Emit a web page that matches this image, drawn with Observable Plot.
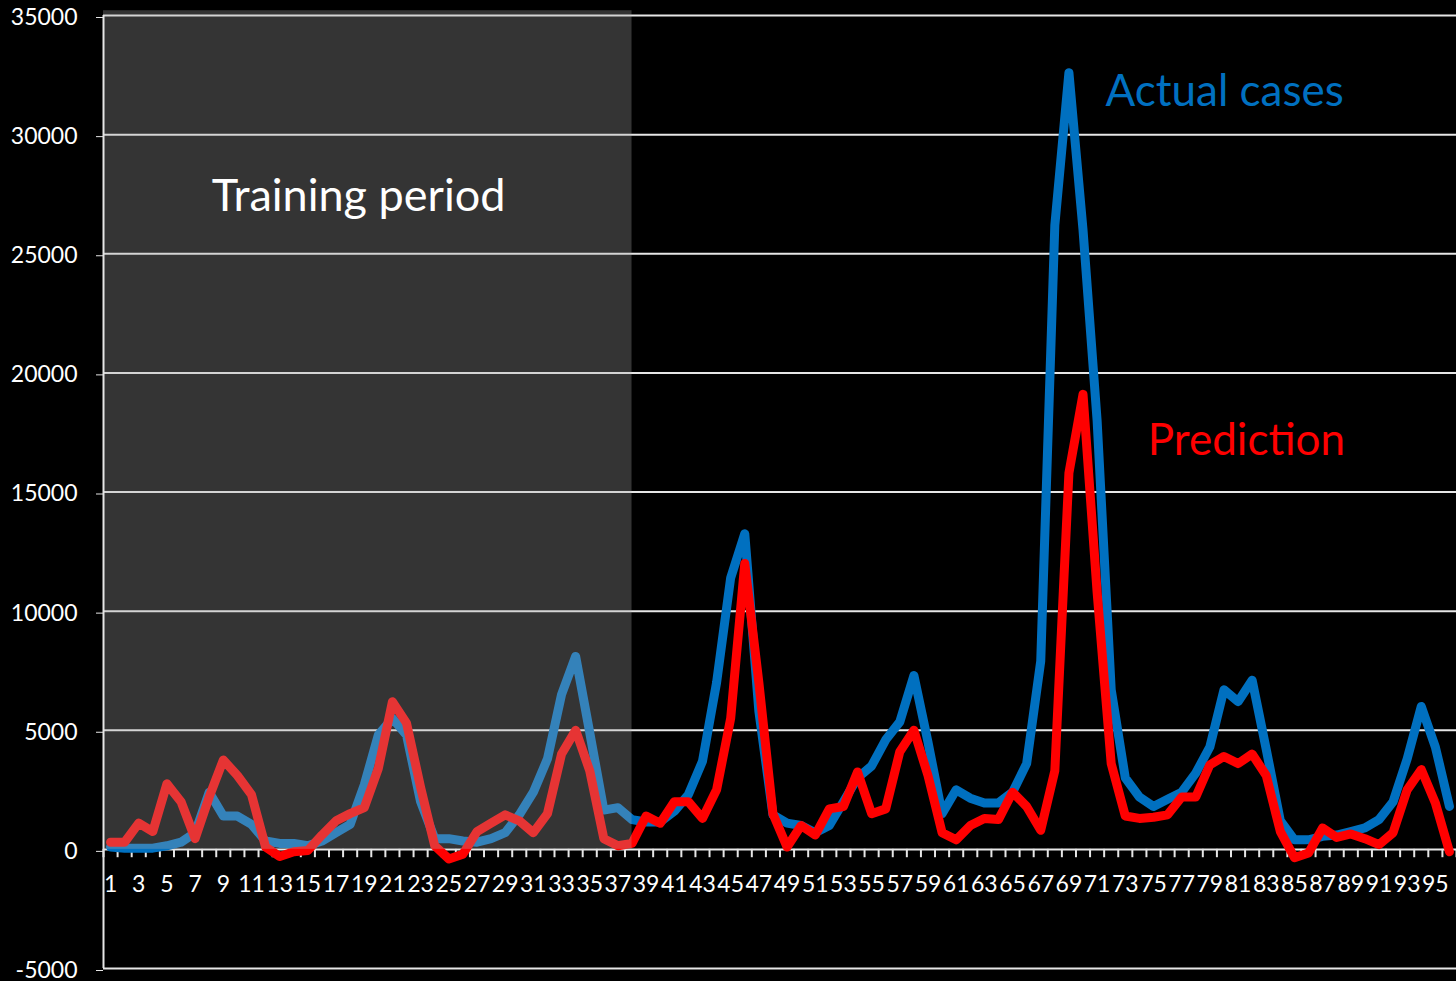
<!DOCTYPE html>
<html><head><meta charset="utf-8">
<script src="https://cdn.jsdelivr.net/npm/d3@7"></script>
<script src="https://cdn.jsdelivr.net/npm/@observablehq/plot@0.6"></script>
<style>
html,body{margin:0;padding:0;background:#000;}
#chart{width:1456px;height:981px;}
</style></head>
<body><div id="chart"></div>
<script>
const weeks = d3.range(1, 97);
const actualCases = [100,50,50,50,150,300,700,2400,1400,1400,1050,350,250,250,150,350,700,1050,2700,4800,
  5500,4800,2000,450,450,350,300,450,700,1450,2400,3800,6500,8100,4900,1650,1750,1250,1150,1150,
  1600,2300,3700,7000,11400,13250,5800,1450,1100,1000,700,1000,2000,3000,3500,4600,5350,7300,4500,1500,
  2500,2150,1950,1950,2400,3600,7900,26200,32600,26000,18000,6700,3000,2200,1800,2100,2400,3200,4300,6700,
  6200,7100,4200,1200,400,400,550,600,750,900,1250,2000,3800,6000,4300,1800];
const prediction = [300,300,1100,750,2750,2000,450,2200,3750,3100,2300,100,-300,-100,-50,600,1200,1500,1750,3400,
  6200,5300,2600,150,-400,-200,750,1100,1450,1200,700,1500,4000,5000,3300,450,150,250,1400,1100,
  2000,2000,1300,2500,5500,12000,7000,1500,100,1000,600,1700,1800,3250,1500,1700,4100,5000,3100,700,
  400,1000,1300,1250,2400,1800,800,3300,15800,19100,10800,3600,1400,1300,1350,1450,2200,2200,3550,3900,
  3600,4000,3100,750,-350,-150,900,500,650,450,200,700,2500,3350,1950,-100];
const yTicks = [-5000,0,5000,10000,15000,20000,25000,30000,35000];
const xLabels = weeks.filter(d => d % 2 === 1);
const trainingEnd = 38;
const seriesNames = ["Actual cases","Prediction"];
const seriesColors = ["#0070C0","#FF0000"];

const actualData = weeks.map((w,i)=>({w, v: actualCases[i]}));
const predData = weeks.map((w,i)=>({w, v: prediction[i]}));
const bounds = d3.range(0, 97).map(i => i + 0.5);
const FONT = "Lato, 'Open Sans', sans-serif";
const tickLen = 350; // in value units (≈8px)

const chart = Plot.plot({
  width: 1456, height: 981,
  marginLeft: 103, marginRight: 0, marginTop: 15, marginBottom: 13,
  style: {background: "#000", color: "#fff", fontFamily: FONT, overflow: "visible"},
  x: {domain: [0.5, 96.5], axis: null},
  y: {domain: [-5000, 35000], axis: null},
  marks: [
    Plot.ruleY(yTicks, {stroke: "#e6e6e6", strokeWidth: 2}),
    Plot.ruleX(bounds, {y1: 0, y2: -tickLen, stroke: "#e6e6e6", strokeWidth: 2}),
    Plot.line(actualData, {x: "w", y: "v", stroke: seriesColors[0], strokeWidth: 9, strokeLinejoin: "round", strokeLinecap: "round"}),
    Plot.line(predData, {x: "w", y: "v", stroke: seriesColors[1], strokeWidth: 9, strokeLinejoin: "round", strokeLinecap: "round"}),
    Plot.rect([{}], {x1: 0.5, x2: trainingEnd, y1: 0, y2: 35200, fill: "rgb(173,173,173)", fillOpacity: 0.3}),
    Plot.ruleX([0.5], {stroke: "#e6e6e6", strokeWidth: 2}),
    Plot.axisY({ticks: yTicks, label: null, tickSize: 7, tickPadding: 19, fontSize: 23, stroke: "#e6e6e6", tickFormat: d => String(d), dy: 2}),
    Plot.text(xLabels, {x: d => d, y: 0, dy: 35, text: d => String(d), fontSize: 23, fill: "#fff"}),
    Plot.text(["Training period"], {x: 18.6, y: 27400, fontSize: 45, fill: "#fff"}),
    Plot.text([seriesNames[0]], {x: 71.6, y: 31800, textAnchor: "start", fontSize: 44, fill: seriesColors[0]}),
    Plot.text([seriesNames[1]], {x: 74.6, y: 17150, textAnchor: "start", fontSize: 44, fill: seriesColors[1]})
  ]
});
document.getElementById("chart").appendChild(chart);
</script>
</body></html>
